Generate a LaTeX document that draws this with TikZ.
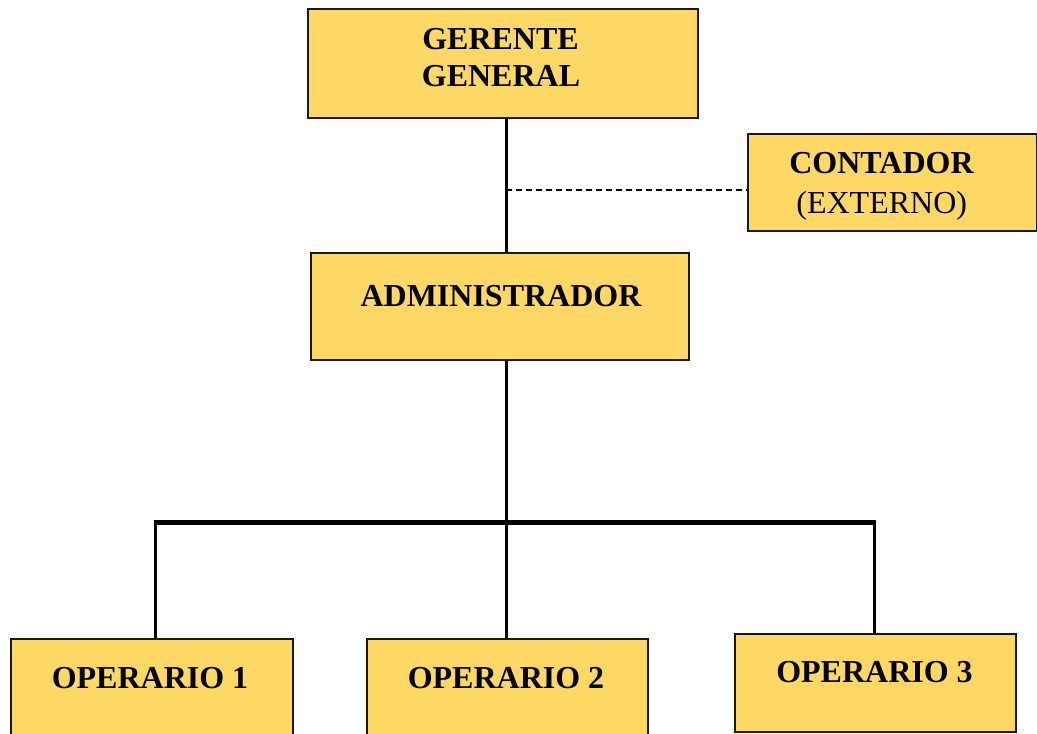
\documentclass[tikz,border=0pt]{standalone}
\usepackage{fontspec}
\setmainfont{Liberation Serif}
\definecolor{boxfill}{HTML}{FDD865}
\begin{document}
\begin{tikzpicture}[x=1pt,y=-1pt,
  box/.style={draw=black!90,line width=2pt,fill=boxfill,inner sep=0pt,anchor=north west},
  lbl/.style={anchor=base,inner sep=0pt,font=\fontsize{32pt}{37pt}\selectfont\bfseries},
  lblr/.style={anchor=base,inner sep=0pt,font=\fontsize{32pt}{37pt}\selectfont},
  conn/.style={line width=3pt},
  bar/.style={line width=5pt}]
\useasboundingbox (0,0) rectangle (1037,734);
% boxes
\node[box,minimum width=390pt,minimum height=109pt] (gerente) at (307,8) {};
\node[box,minimum width=289pt,minimum height=97pt] (contador) at (747,133) {};
\node[box,minimum width=378pt,minimum height=107pt] (admin) at (310,252) {};
\node[box,minimum width=282pt,minimum height=110pt] (op1) at (10,638) {};
\node[box,minimum width=281pt,minimum height=110pt] (op2) at (366,638) {};
\node[box,minimum width=281pt,minimum height=98pt] (op3) at (734,633) {};
% labels
\node[lbl] (tg1) at (500.5,49) {GERENTE};
\node[lbl] (tg2) at (501,86) {GENERAL};
\node[lbl] (tc1) at (881.5,173) {CONTADOR};
\node[lblr] (tc2) at (881.7,213) {(EXTERNO)};
\node[lbl] (ta) at (501,306) {ADMINISTRADOR};
\node[lbl] (t1) at (150,688) {OPERARIO 1};
\node[lbl] (t2) at (506,688) {OPERARIO 2};
\node[lbl] (t3) at (874.5,682) {OPERARIO 3};
% coordinates
\coordinate (trunk) at (506,0);
\coordinate (dashpt) at (506,190);
\coordinate (barL) at (155,522);
\coordinate (barM) at (506,522);
\coordinate (barR) at (874,522);
% connectors
\draw[conn] (gerente.south -| trunk) -- (admin.north -| trunk);
\draw[line width=1.5pt,dash pattern=on 6pt off 4pt] (dashpt) -- (dashpt -| contador.west);
\draw[conn] (admin.south -| trunk) -- (barM);
\draw[bar] ([xshift=-1.5pt]barL) -- ([xshift=1.5pt]barR);
\draw[conn] ([yshift=-2.5pt]barL) -- (barL |- op1.north);
\draw[conn] (barM) -- (barM |- op2.north);
\draw[conn] ([yshift=-2.5pt]barR) -- (barR |- op3.north);
\end{tikzpicture}
\end{document}
